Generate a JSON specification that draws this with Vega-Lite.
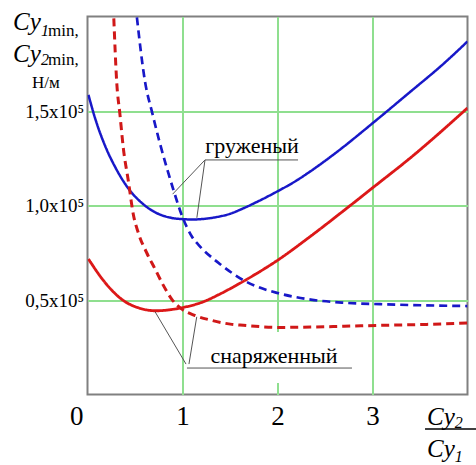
{
  "$schema": "https://vega.github.io/schema/vega-lite/v6.json",
  "width": 380,
  "height": 378,
  "autosize": {"type": "none"},
  "padding": {"left": 87.5, "top": 16.5, "right": 8.5, "bottom": 70.5},
  "background": "white",
  "config": {"view": {"stroke": "#808080", "strokeWidth": 2}, "font": "Liberation Serif"},
  "datasets": {
    "curves": [
      {"s": "Cy1 груженый", "x": 0.01, "y": 158500}, {"s": "Cy1 груженый", "x": 0.084, "y": 145500}, {"s": "Cy1 груженый", "x": 0.19, "y": 131000}, {"s": "Cy1 груженый", "x": 0.295, "y": 120000}, {"s": "Cy1 груженый", "x": 0.43, "y": 109000}, {"s": "Cy1 груженый", "x": 0.58, "y": 101000}, {"s": "Cy1 груженый", "x": 0.716, "y": 96300}, {"s": "Cy1 груженый", "x": 0.85, "y": 93800}, {"s": "Cy1 груженый", "x": 1.0, "y": 92800}, {"s": "Cy1 груженый", "x": 1.1, "y": 92600}, {"s": "Cy1 груженый", "x": 1.2, "y": 92800}, {"s": "Cy1 груженый", "x": 1.35, "y": 93800}, {"s": "Cy1 груженый", "x": 1.5, "y": 95600}, {"s": "Cy1 груженый", "x": 1.64, "y": 98500}, {"s": "Cy1 груженый", "x": 1.8, "y": 102300}, {"s": "Cy1 груженый", "x": 2.0, "y": 107500}, {"s": "Cy1 груженый", "x": 2.2, "y": 113200}, {"s": "Cy1 груженый", "x": 2.35, "y": 118200}, {"s": "Cy1 груженый", "x": 2.63, "y": 128500}, {"s": "Cy1 груженый", "x": 3.0, "y": 143500}, {"s": "Cy1 груженый", "x": 3.37, "y": 159000}, {"s": "Cy1 груженый", "x": 3.77, "y": 176000}, {"s": "Cy1 груженый", "x": 4.0, "y": 186800},
      {"s": "Cy2 груженый", "x": 0.52, "y": 199500}, {"s": "Cy2 груженый", "x": 0.605, "y": 165700}, {"s": "Cy2 груженый", "x": 0.684, "y": 148500}, {"s": "Cy2 груженый", "x": 0.758, "y": 133700}, {"s": "Cy2 груженый", "x": 0.832, "y": 120400}, {"s": "Cy2 груженый", "x": 0.905, "y": 108200}, {"s": "Cy2 груженый", "x": 0.995, "y": 94500}, {"s": "Cy2 груженый", "x": 1.1, "y": 83500}, {"s": "Cy2 груженый", "x": 1.19, "y": 78000}, {"s": "Cy2 груженый", "x": 1.32, "y": 72000}, {"s": "Cy2 груженый", "x": 1.4, "y": 68800}, {"s": "Cy2 груженый", "x": 1.53, "y": 64000}, {"s": "Cy2 груженый", "x": 1.64, "y": 60500}, {"s": "Cy2 груженый", "x": 1.8, "y": 56800}, {"s": "Cy2 груженый", "x": 2.0, "y": 53700}, {"s": "Cy2 груженый", "x": 2.35, "y": 50200}, {"s": "Cy2 груженый", "x": 2.69, "y": 48600}, {"s": "Cy2 груженый", "x": 3.08, "y": 47800}, {"s": "Cy2 груженый", "x": 4.0, "y": 46800},
      {"s": "Cy1 снаряженный", "x": 0.01, "y": 71700}, {"s": "Cy1 снаряженный", "x": 0.19, "y": 58900}, {"s": "Cy1 снаряженный", "x": 0.37, "y": 50000}, {"s": "Cy1 снаряженный", "x": 0.54, "y": 45800}, {"s": "Cy1 снаряженный", "x": 0.72, "y": 44300}, {"s": "Cy1 снаряженный", "x": 0.89, "y": 45000}, {"s": "Cy1 снаряженный", "x": 1.03, "y": 46300}, {"s": "Cy1 снаряженный", "x": 1.21, "y": 48900}, {"s": "Cy1 снаряженный", "x": 1.38, "y": 52800}, {"s": "Cy1 снаряженный", "x": 1.56, "y": 57600}, {"s": "Cy1 снаряженный", "x": 1.8, "y": 64600}, {"s": "Cy1 снаряженный", "x": 2.0, "y": 71000}, {"s": "Cy1 снаряженный", "x": 2.35, "y": 83800}, {"s": "Cy1 снаряженный", "x": 2.69, "y": 97000}, {"s": "Cy1 снаряженный", "x": 3.0, "y": 109300}, {"s": "Cy1 снаряженный", "x": 3.43, "y": 126500}, {"s": "Cy1 снаряженный", "x": 4.0, "y": 151600},
      {"s": "Cy2 снаряженный", "x": 0.277, "y": 199000}, {"s": "Cy2 снаряженный", "x": 0.307, "y": 165700}, {"s": "Cy2 снаряженный", "x": 0.342, "y": 148000}, {"s": "Cy2 снаряженный", "x": 0.377, "y": 130400}, {"s": "Cy2 снаряженный", "x": 0.43, "y": 113000}, {"s": "Cy2 снаряженный", "x": 0.482, "y": 95400}, {"s": "Cy2 снаряженный", "x": 0.535, "y": 85500}, {"s": "Cy2 снаряженный", "x": 0.623, "y": 75000}, {"s": "Cy2 снаряженный", "x": 0.71, "y": 66500}, {"s": "Cy2 снаряженный", "x": 0.8, "y": 57600}, {"s": "Cy2 снаряженный", "x": 0.886, "y": 50500}, {"s": "Cy2 снаряженный", "x": 0.99, "y": 45300}, {"s": "Cy2 снаряженный", "x": 1.13, "y": 41800}, {"s": "Cy2 снаряженный", "x": 1.31, "y": 39200}, {"s": "Cy2 снаряженный", "x": 1.52, "y": 37100}, {"s": "Cy2 снаряженный", "x": 1.64, "y": 36600}, {"s": "Cy2 снаряженный", "x": 2.0, "y": 35500}, {"s": "Cy2 снаряженный", "x": 2.35, "y": 35700}, {"s": "Cy2 снаряженный", "x": 2.7, "y": 36100}, {"s": "Cy2 снаряженный", "x": 3.08, "y": 36600}, {"s": "Cy2 снаряженный", "x": 3.57, "y": 37100}, {"s": "Cy2 снаряженный", "x": 4.0, "y": 37800}
    ],
    "gap": [{"x": 1.7, "x2": 2.3, "y": 6100, "y2": 33100}],
    "leaders": [
      {"x": 1.237, "y": 124100, "x2": 2.216, "y2": 124100},
      {"x": 1.237, "y": 124100, "x2": 0.896, "y2": 106000},
      {"x": 1.237, "y": 124100, "x2": 1.151, "y2": 93500},
      {"x": 1.047, "y": 14000, "x2": 2.784, "y2": 14000},
      {"x": 1.037, "y": 16100, "x2": 0.711, "y2": 43800},
      {"x": 1.068, "y": 16100, "x2": 1.15, "y2": 41100}
    ],
    "bar": [{"x": 3.553, "y": -18300, "x2": 4.09, "y2": -18300}],
    "big": [
      {"t": "Cy", "x": -0.784, "y": 192900},
      {"t": "Cy", "x": -0.784, "y": 175900},
      {"t": "Cy", "x": 3.574, "y": -16100},
      {"t": "Cy", "x": 3.574, "y": -33100}
    ],
    "subs": [
      {"t": "1", "x": -0.489, "y": 189700},
      {"t": "2", "x": -0.489, "y": 174300},
      {"t": "2", "x": 3.865, "y": -17700},
      {"t": "1", "x": 3.865, "y": -35700}
    ],
    "small": [
      {"t": "min,", "x": -0.416, "y": 189700},
      {"t": "min,", "x": -0.416, "y": 174300},
      {"t": "Н/м", "x": -0.584, "y": 162200}
    ],
    "notes": [
      {"t": "груженый", "x": 1.732, "y": 128000},
      {"t": "снаряженный", "x": 1.963, "y": 16500}
    ]
  },
  "layer": [
    {
      "data": {"name": "gap"},
      "mark": {"type": "rect", "color": "white"},
      "encoding": {
        "x": {"field": "x", "type": "quantitative", "title": null,
          "scale": {"domain": [0, 4], "nice": false, "zero": false},
          "axis": {"values": [0, 1, 2, 3], "format": "d", "grid": true, "gridColor": "#8fdf8f", "gridWidth": 2,
            "gridOpacity": {"condition": {"test": "datum.value === 0", "value": 0}, "value": 1},
            "ticks": false, "domain": false, "labelFont": "Liberation Serif", "labelFontSize": 27,
            "labelColor": "black", "labelPadding": 9,
            "labelOffset": {"condition": {"test": "datum.value === 0", "value": -18}, "value": 0},
            "title": null}},
        "x2": {"field": "x2"},
        "y": {"field": "y", "type": "quantitative", "title": null,
          "scale": {"domain": [0, 200000], "nice": false, "zero": false},
          "axis": {"values": [50000, 100000, 150000], "grid": true, "gridColor": "#8fdf8f", "gridWidth": 2,
            "ticks": false, "domain": false, "labelFont": "Liberation Serif", "labelFontSize": 19,
            "labelColor": "black", "labelPadding": 4,
            "labelExpr": "replace(format(datum.value / 100000, '.1f'), '.', ',') + 'x10⁵'",
            "title": null}},
        "y2": {"field": "y2"}
      }
    },
    {
      "data": {"name": "curves"},
      "mark": {"type": "line", "interpolate": "monotone", "clip": true},
      "encoding": {
        "x": {"field": "x", "type": "quantitative", "title": null, "scale": {"domain": [0, 4], "nice": false, "zero": false}},
        "y": {"field": "y", "type": "quantitative", "title": null, "scale": {"domain": [0, 200000], "nice": false, "zero": false}},
        "detail": {"field": "s"},
        "color": {"field": "s", "type": "nominal", "legend": null,
          "scale": {"domain": ["Cy1 груженый", "Cy2 груженый", "Cy1 снаряженный", "Cy2 снаряженный"],
            "range": ["#1818c8", "#1818c8", "#dc1818", "#d01818"]}},
        "strokeDash": {"field": "s", "type": "nominal", "legend": null,
          "scale": {"domain": ["Cy1 груженый", "Cy2 груженый", "Cy1 снаряженный", "Cy2 снаряженный"],
            "range": [[1, 0], [8, 5], [1, 0], [8, 5]]}},
        "strokeWidth": {"field": "s", "type": "nominal", "legend": null,
          "scale": {"domain": ["Cy1 груженый", "Cy2 груженый", "Cy1 снаряженный", "Cy2 снаряженный"],
            "range": [2.5, 3, 2.5, 3]}}
      }
    },
    {
      "data": {"name": "leaders"},
      "mark": {"type": "rule", "color": "#555555", "strokeWidth": 1},
      "encoding": {
        "x": {"field": "x", "type": "quantitative", "title": null, "scale": {"domain": [0, 4], "nice": false, "zero": false}},
        "y": {"field": "y", "type": "quantitative", "title": null, "scale": {"domain": [0, 200000], "nice": false, "zero": false}},
        "x2": {"field": "x2"},
        "y2": {"field": "y2"}
      }
    },
    {
      "data": {"name": "bar"},
      "mark": {"type": "rule", "color": "black", "strokeWidth": 1.5},
      "encoding": {
        "x": {"field": "x", "type": "quantitative", "title": null, "scale": {"domain": [0, 4], "nice": false, "zero": false}},
        "y": {"field": "y", "type": "quantitative", "title": null, "scale": {"domain": [0, 200000], "nice": false, "zero": false}},
        "x2": {"field": "x2"},
        "y2": {"field": "y2"}
      }
    },
    {
      "data": {"name": "big"},
      "mark": {"type": "text", "font": "Liberation Serif", "fontStyle": "italic", "fontSize": 25, "align": "left", "baseline": "alphabetic", "color": "black"},
      "encoding": {
        "x": {"field": "x", "type": "quantitative", "title": null, "scale": {"domain": [0, 4], "nice": false, "zero": false}},
        "y": {"field": "y", "type": "quantitative", "title": null, "scale": {"domain": [0, 200000], "nice": false, "zero": false}},
        "text": {"field": "t"}
      }
    },
    {
      "data": {"name": "subs"},
      "mark": {"type": "text", "font": "Liberation Serif", "fontStyle": "italic", "fontSize": 16, "align": "left", "baseline": "alphabetic", "color": "black"},
      "encoding": {
        "x": {"field": "x", "type": "quantitative", "title": null, "scale": {"domain": [0, 4], "nice": false, "zero": false}},
        "y": {"field": "y", "type": "quantitative", "title": null, "scale": {"domain": [0, 200000], "nice": false, "zero": false}},
        "text": {"field": "t"}
      }
    },
    {
      "data": {"name": "small"},
      "mark": {"type": "text", "font": "Liberation Serif", "fontSize": 17, "align": "left", "baseline": "alphabetic", "color": "black"},
      "encoding": {
        "x": {"field": "x", "type": "quantitative", "title": null, "scale": {"domain": [0, 4], "nice": false, "zero": false}},
        "y": {"field": "y", "type": "quantitative", "title": null, "scale": {"domain": [0, 200000], "nice": false, "zero": false}},
        "text": {"field": "t"}
      }
    },
    {
      "data": {"name": "notes"},
      "mark": {"type": "text", "font": "Liberation Serif", "fontSize": 22, "align": "center", "baseline": "alphabetic", "color": "black"},
      "encoding": {
        "x": {"field": "x", "type": "quantitative", "title": null, "scale": {"domain": [0, 4], "nice": false, "zero": false}},
        "y": {"field": "y", "type": "quantitative", "title": null, "scale": {"domain": [0, 200000], "nice": false, "zero": false}},
        "text": {"field": "t"}
      }
    }
  ]
}
